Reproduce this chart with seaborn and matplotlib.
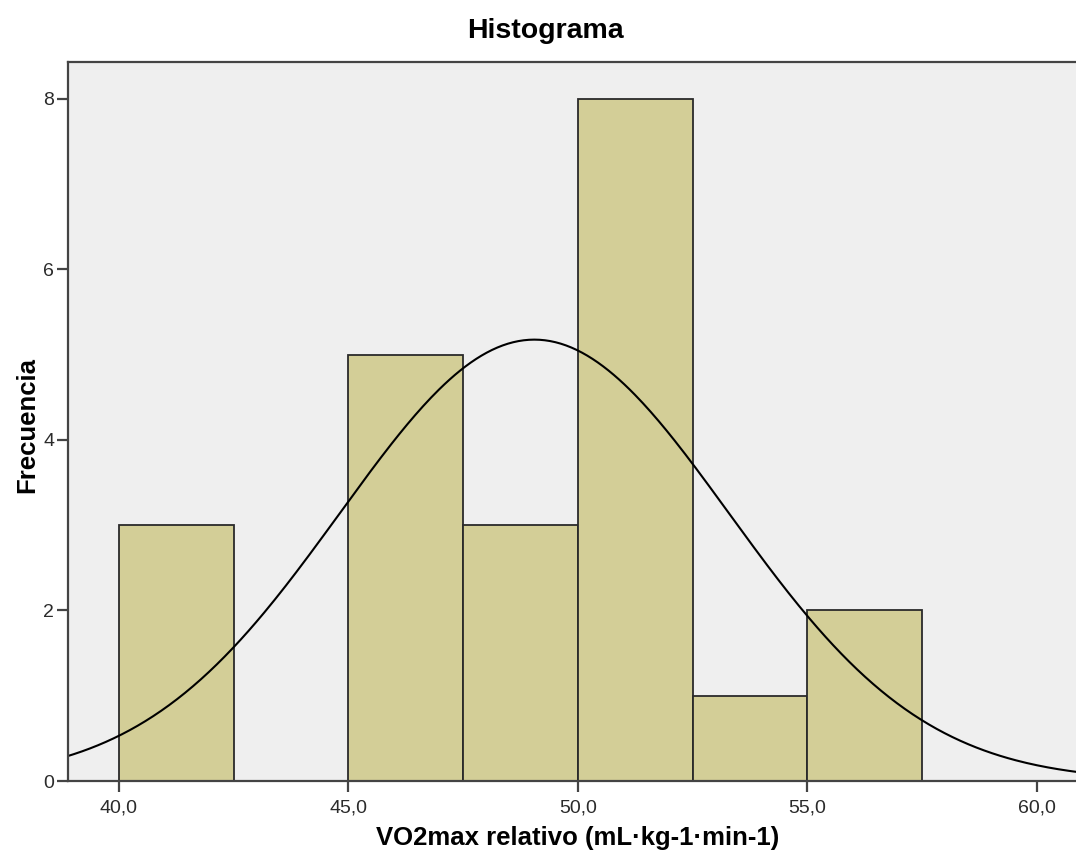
import numpy as np
import pandas as pd
import matplotlib
matplotlib.use("Agg")
import matplotlib.pyplot as plt
import seaborn as sns

bin_edges = [40.0, 42.5, 45.0, 47.5, 50.0, 52.5, 55.0, 57.5]
bin_counts = [3, 0, 5, 3, 8, 1, 2]
fit_mean = 49.05
fit_sd = 4.24
n_total = sum(bin_counts)
bin_width = 2.5
x_ticks = [40.0, 45.0, 50.0, 55.0, 60.0]
x_tick_labels = ["40,0", "45,0", "50,0", "55,0", "60,0"]
y_ticks = [0, 2, 4, 6, 8]

sns.set_style("white")
plt.rcParams['font.family'] = ['Arial', 'Liberation Sans', 'DejaVu Sans']

fig = plt.figure(figsize=(10.76, 8.55), dpi=100)
ax = fig.add_axes([68/1076, 74/855, 1 - 68/1076, (781-62)/855])
ax.set_facecolor("#efefef")

centers = [(a + b) / 2 for a, b in zip(bin_edges[:-1], bin_edges[1:])]
df = pd.DataFrame({"x": centers, "w": bin_counts})
sns.histplot(data=df, x="x", weights="w", bins=bin_edges, ax=ax,
             color="#d3ce97", alpha=1.0, edgecolor="#2a2a2a", linewidth=1.3)

xs = np.linspace(38.5, 61.5, 400)
ys = n_total * bin_width / (fit_sd * np.sqrt(2 * np.pi)) * np.exp(-0.5 * ((xs - fit_mean) / fit_sd) ** 2)
sns.lineplot(x=xs, y=ys, ax=ax, color="black", linewidth=1.5)

ax.set_xlim(38.89, 60.85)
ax.set_ylim(0, 8.43)
ax.set_xticks(x_ticks)
ax.set_xticklabels(x_tick_labels)
ax.set_yticks(y_ticks)
ax.tick_params(axis="both", direction="out", length=8, width=1.6, colors="#444444",
               labelsize=14, labelcolor="#2b2b2b", bottom=True, left=True)
ax.tick_params(axis="x", pad=5)
ax.tick_params(axis="y", pad=2)
for side in ["left", "bottom", "top"]:
    ax.spines[side].set_color("#444444")
    ax.spines[side].set_linewidth(1.6)
ax.spines["right"].set_visible(False)

ax.set_xlabel("VO2max relativo (mL·kg-1·min-1)", fontsize=18.5, fontweight="bold", color="black")
ax.xaxis.set_label_coords((578 - 68) / 1008, (781 - 838) / 719)
ax.xaxis.label.set_va("center")
ax.set_ylabel("Frecuencia", fontsize=18.5, fontweight="bold", color="black")
ax.yaxis.set_label_coords((27 - 68) / 1008, (781 - 425) / 719)
ax.yaxis.label.set_va("center")
fig.text(545/1076, 1 - 31/855, "Histograma", ha="center", va="center", fontsize=20.5,
         fontweight="bold", color="black")

fig.savefig("out.png", dpi=100)
